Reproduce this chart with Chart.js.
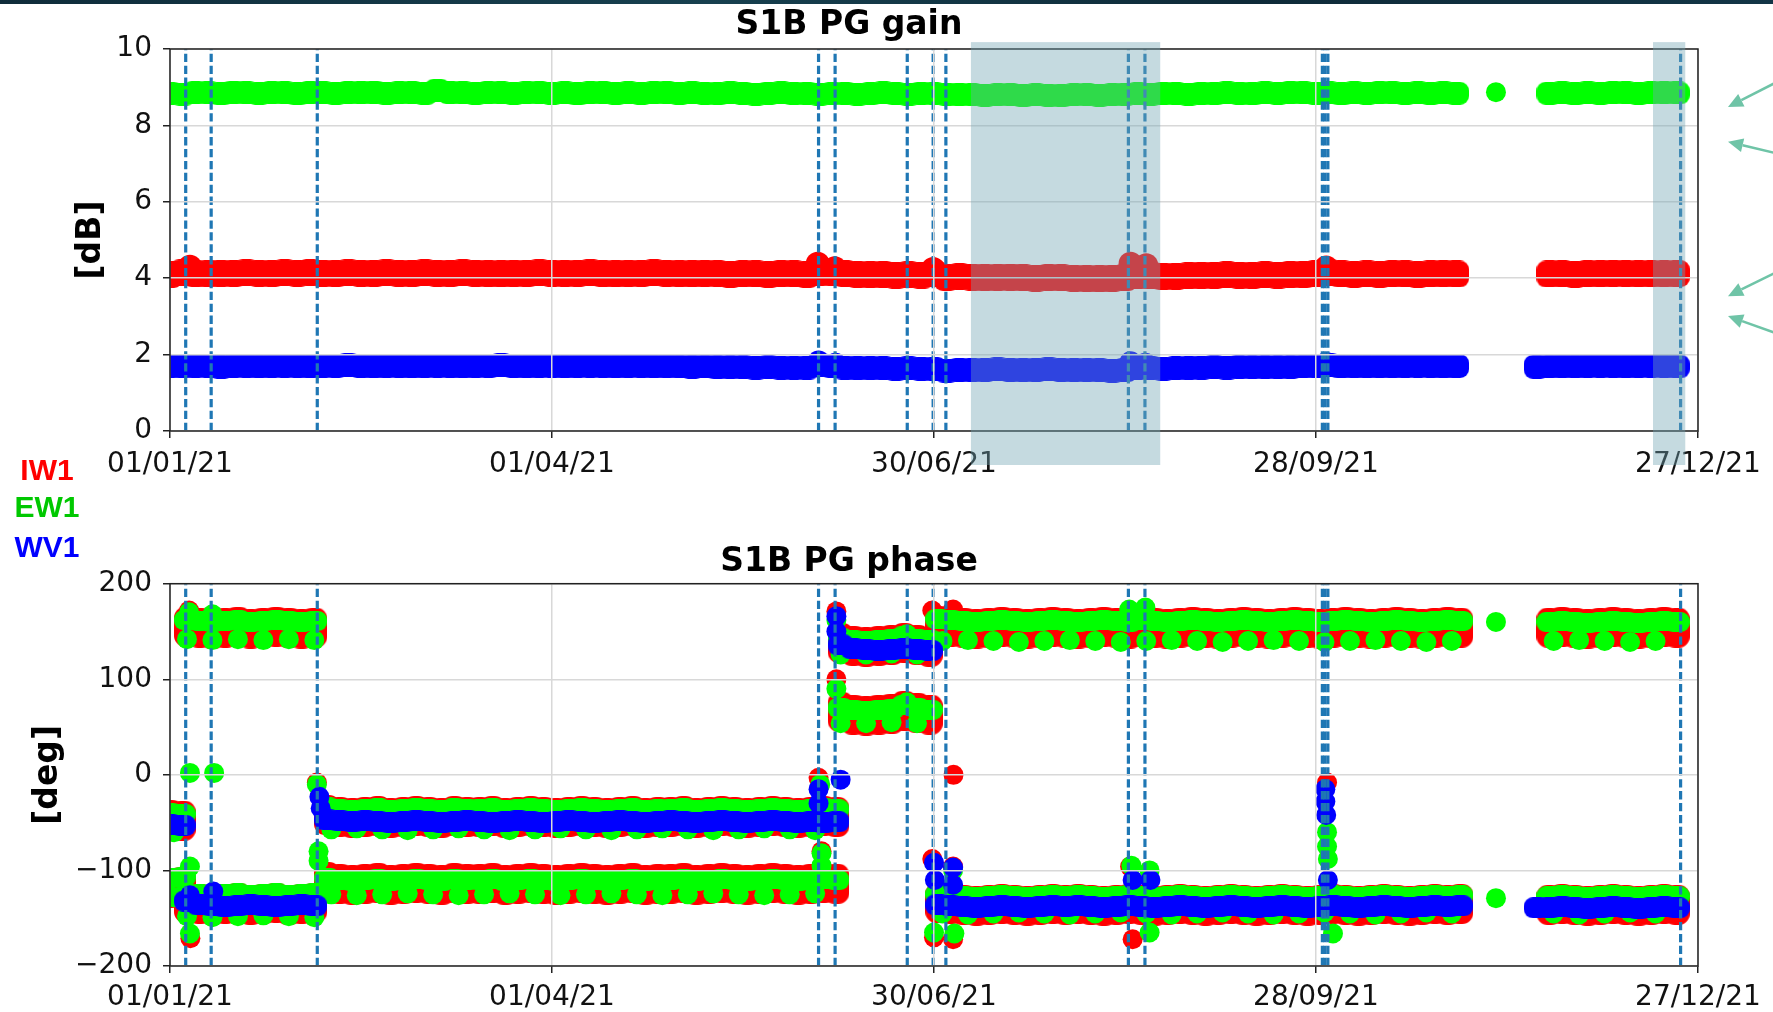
<!DOCTYPE html>
<html>
<head>
<meta charset="utf-8">
<script src="https://cdn.jsdelivr.net/npm/chart.js@4.4.1/dist/chart.umd.min.js"></script>
<style>
  html, body { margin: 0; padding: 0; background: #fff; }
  body { width: 1773px; height: 1012px; position: relative; overflow: hidden; }
  #banner { position: absolute; left: 0; top: 0; width: 1773px; height: 4px;
            background: linear-gradient(90deg, #0f2c3a, #17404f 40%, #0e2a38 70%, #123546); }
  canvas { position: absolute; left: 0; }
  #gainChart { top: 0; }
  #phaseChart { top: 490px; }
  .sw { position: absolute; left: 0; width: 94px; text-align: center;
        font: bold 30px "Liberation Sans", Arial, sans-serif; line-height: 30px; }
</style>
</head>
<body>
<canvas id="gainChart" width="1773" height="490"></canvas>
<canvas id="phaseChart" width="1773" height="522"></canvas>
<div id="banner"></div>
<div class="sw" style="top:455px;color:#ff0000">IW1</div>
<div class="sw" style="top:492px;color:#00c800">EW1</div>
<div class="sw" style="top:532px;color:#0000ff">WV1</div>
<script>
// x values are days since 01/01/21
const xTickDays = [0, 90, 180, 270, 360];
const xTickLabels = ['01/01/21', '01/04/21', '30/06/21', '28/09/21', '27/12/21'];
const gainTicks = [0, 2, 4, 6, 8, 10];
const phaseTicks = [-200, -100, 0, 100, 200];
const phaseTickLabels = ['\u2212200', '\u2212100', '0', '100', '200'];

// dashed event lines and the shaded periods (days)
const eventDays = [3.7, 9.7, 34.7, 152.8, 156.7, 173.7, 179.8, 182.8, 225.8, 229.7, 271.5, 272.1, 272.8, 355.9];
const shadedDays = [[188.7, 233.3], [349.4, 357.0]];

// runs: [first day, day step, values]
const ew1Gain = [
  [0, 3, [8.84, 8.82, 8.86, 8.85, 8.83, 8.87, 8.85, 8.84, 8.86, 8.85,
          8.83, 8.86, 8.85, 8.84, 8.86, 8.85, 8.87, 8.84, 8.85, 8.86,
          8.84, 8.92, 8.86, 8.85, 8.84, 8.86, 8.85, 8.84, 8.85, 8.86,
          8.84, 8.85, 8.83, 8.85, 8.86, 8.84, 8.85, 8.84, 8.85, 8.86,
          8.84, 8.85, 8.84, 8.83, 8.85, 8.84, 8.82, 8.84, 8.85, 8.83,
          8.84, 8.82, 8.83, 8.84, 8.82, 8.83, 8.85, 8.83, 8.82, 8.84,
          8.83, 8.82, 8.80, 8.81, 8.79, 8.80, 8.81, 8.78, 8.80, 8.79,
          8.78, 8.80, 8.81, 8.79, 8.80, 8.82, 8.83, 8.82, 8.84, 8.83,
          8.82, 8.84, 8.83, 8.85, 8.84, 8.83, 8.85, 8.84, 8.86, 8.85,
          8.84, 8.85, 8.83, 8.85, 8.84, 8.86, 8.85, 8.84, 8.85, 8.84,
          8.85, 8.84]],
  [325, 3, [8.84, 8.85, 8.83, 8.85, 8.84, 8.86, 8.85, 8.84, 8.85, 8.86, 8.85]]
];
const iw1Gain = [
  [0, 3, [4.10, 4.14, 4.12, 4.11, 4.13, 4.12, 4.14, 4.13, 4.12, 4.14,
          4.13, 4.15, 4.13, 4.12, 4.14, 4.13, 4.12, 4.14, 4.13, 4.12,
          4.14, 4.13, 4.12, 4.14, 4.13, 4.12, 4.11, 4.13, 4.12, 4.14,
          4.13, 4.12, 4.13, 4.14, 4.12, 4.11, 4.13, 4.12, 4.14, 4.13,
          4.12, 4.11, 4.13, 4.12, 4.10, 4.12, 4.11, 4.10, 4.12, 4.11,
          4.10, 4.14, 4.16, 4.12, 4.10, 4.09, 4.10, 4.08, 4.09, 4.08,
          4.12, 4.02, 4.04, 4.03, 4.01, 4.02, 4.03, 4.01, 4.00, 4.02,
          4.01, 4.00, 3.99, 3.98, 4.00, 4.02, 4.06, 4.08, 4.04, 4.05,
          4.06, 4.08, 4.07, 4.09, 4.08, 4.07, 4.09, 4.08, 4.10, 4.09,
          4.12, 4.14, 4.11, 4.10, 4.11, 4.10, 4.12, 4.11, 4.10, 4.11,
          4.12, 4.11]],
  [325, 3, [4.11, 4.12, 4.10, 4.12, 4.11, 4.13, 4.12, 4.11, 4.12, 4.11, 4.12]]
];
const wv1Gain = [
  [0, 3, [1.70, 1.69, 1.71, 1.70, 1.68, 1.70, 1.71, 1.69, 1.70, 1.71,
          1.70, 1.69, 1.71, 1.70, 1.72, 1.70, 1.69, 1.71, 1.70, 1.69,
          1.70, 1.71, 1.70, 1.69, 1.71, 1.70, 1.72, 1.70, 1.69, 1.71,
          1.70, 1.69, 1.70, 1.71, 1.70, 1.69, 1.70, 1.71, 1.69, 1.70,
          1.69, 1.68, 1.69, 1.67, 1.68, 1.67, 1.66, 1.67, 1.66, 1.65,
          1.66, 1.72, 1.70, 1.66, 1.64, 1.65, 1.64, 1.63, 1.64, 1.63,
          1.62, 1.58, 1.60, 1.59, 1.60, 1.61, 1.60, 1.59, 1.60, 1.61,
          1.60, 1.59, 1.60, 1.59, 1.58, 1.60, 1.66, 1.65, 1.63, 1.64,
          1.65, 1.66, 1.67, 1.66, 1.68, 1.67, 1.68, 1.67, 1.68, 1.69,
          1.70, 1.72, 1.69, 1.70, 1.69, 1.70, 1.69, 1.70, 1.71, 1.70,
          1.69, 1.70]],
  [322, 3, [1.68, 1.69, 1.70, 1.69, 1.70, 1.71, 1.70, 1.69, 1.70, 1.71, 1.70, 1.69]]
];
// single points away from the runs: [day, value]
const ew1GainOut = [[312.4, 8.87]];
const iw1GainOut = [[4.7, 4.30], [152.6, 4.38], [156.6, 4.26], [179.8, 4.24], [226.3, 4.38], [230.0, 4.34], [272.4, 4.28]];
const wv1GainOut = [[152.8, 1.82], [156.8, 1.76], [226.3, 1.80], [229.8, 1.76], [272.4, 1.78]];

const iw1Phase = [
  [0, 3, [-47, -48]],
  [0, 3, [-118, -117]],
  [4, 3, [155, 154, 153, 154, 155, 153, 154, 155, 154, 153, 154]],
  [4, 3, [-134, -135, -136, -135, -134, -136, -135, -134, -136, -135, -134]],
  [37, 3, [-42, -44, -45, -44, -43, -45, -44, -43, -44, -45,
           -43, -44, -44, -43, -45, -44, -43, -44, -45, -44,
           -43, -44, -45, -44, -43, -45, -44, -44, -43, -45,
           -44, -43, -44, -45, -44, -43, -44, -45, -44, -43, -44]],
  [37, 3, [-112, -114, -115, -114, -113, -115, -114, -113, -114, -115,
           -113, -114, -114, -113, -115, -114, -113, -114, -115, -114,
           -113, -114, -115, -114, -113, -115, -114, -114, -113, -115,
           -114, -113, -114, -115, -114, -113, -114, -115, -114, -113, -114]],
  [158, 3, [138, 135, 134, 135, 136, 138, 136, 134]],
  [158, 3, [66, 63, 62, 63, 64, 67, 65, 63]],
  [181, 3, [156, 155, 154, 153, 154, 155, 154, 153, 154, 155,
            154, 153, 154, 155, 154, 153, 155, 154, 153, 154,
            155, 154, 153, 154, 155, 154, 153, 154, 155, 154,
            153, 154, 155, 154, 153, 154, 155, 154, 153, 154, 155, 154]],
  [181, 3, [-134, -135, -136, -137, -136, -135, -136, -137, -136, -135,
            -136, -135, -136, -137, -136, -135, -136, -137, -136, -135,
            -136, -137, -136, -135, -136, -137, -136, -135, -136, -137,
            -136, -135, -136, -137, -136, -135, -136, -137, -136, -135, -136, -135]],
  [325, 3, [154, 155, 154, 153, 154, 155, 154, 153, 154, 155, 154]],
  [325, 3, [-136, -135, -136, -137, -136, -135, -136, -137, -136, -135, -136]]
];
const ew1Phase = [
  [0, 3, [-40, -41]],
  [0, 3, [-108, -107]],
  [4, 3, [162, 161, 160, 161, 162, 160, 161, 162, 161, 160, 161]],
  [4, 3, [-125, -125, -126, -125, -124, -126, -125, -124, -126, -125, -124]],
  [37, 3, [-34, -36, -37, -36, -35, -37, -36, -35, -36, -37,
           -35, -36, -36, -35, -37, -36, -35, -36, -37, -36,
           -35, -36, -37, -36, -35, -37, -36, -36, -35, -37,
           -36, -35, -36, -37, -36, -35, -36, -37, -36, -35, -36]],
  [37, 3, [-108, -110, -111, -110, -109, -111, -110, -109, -110, -111,
           -109, -110, -110, -109, -111, -110, -109, -110, -111, -110,
           -109, -110, -111, -110, -109, -111, -110, -110, -109, -111,
           -110, -109, -110, -111, -110, -109, -110, -111, -110, -109, -110]],
  [158, 3, [143, 141, 140, 141, 142, 145, 142, 141]],
  [158, 3, [70, 68, 67, 68, 69, 73, 70, 68]],
  [181, 3, [163, 162, 161, 160, 161, 162, 161, 160, 161, 162,
            161, 160, 161, 162, 161, 160, 162, 161, 160, 161,
            162, 161, 160, 161, 162, 161, 160, 161, 162, 161,
            160, 161, 162, 161, 160, 161, 162, 161, 160, 161, 162, 161]],
  [181, 3, [-125, -126, -127, -128, -127, -126, -127, -128, -127, -126,
            -127, -126, -127, -128, -127, -126, -127, -128, -127, -126,
            -127, -128, -127, -126, -127, -128, -127, -126, -127, -128,
            -127, -126, -127, -128, -127, -126, -127, -128, -127, -126, -127, -126]],
  [325, 3, [160, 161, 160, 159, 160, 161, 160, 159, 160, 161, 160]],
  [325, 3, [-127, -126, -127, -128, -127, -126, -127, -128, -127, -126, -127]]
];
// the sparser lower row of EW1 dots
const ew1PhaseLow = [
  [1, 6, [-60]],
  [1, 6, [-128]],
  [4, 6, [142, 141, 142, 141, 142, 141]],
  [4, 6, [-148, -149, -148, -147, -148, -149]],
  [38, 6, [-57, -56, -57, -58, -57, -56, -57, -58, -57, -56,
           -57, -58, -57, -56, -57, -58, -57, -56, -57, -58]],
  [38, 6, [-125, -126, -125, -124, -125, -126, -125, -124, -125, -126,
           -125, -124, -125, -126, -125, -124, -125, -126, -125, -124]],
  [158, 6, [126, 126, 127, 126]],
  [158, 6, [54, 54, 55, 54]],
  [182, 6, [140, 141, 140, 139, 140, 141, 140, 139, 140, 141,
            140, 139, 140, 141, 140, 139, 140, 141, 140, 139, 140]],
  [182, 6, [-145, -146, -145, -144, -145, -146, -145, -144, -145, -146,
            -145, -144, -145, -146, -145, -144, -145, -146, -145, -144, -145]],
  [326, 6, [140, 141, 140, 139, 140]],
  [326, 6, [-145, -146, -145, -144, -145]]
];
const wv1Phase = [
  [0, 3, [-52, -53]],
  [4, 3, [-132, -136, -137, -138, -137, -136, -137, -138, -137, -136, -137]],
  [37, 3, [-47, -48, -49, -48, -49, -50, -49, -48, -49, -50,
           -49, -48, -49, -50, -49, -48, -49, -50, -49, -48,
           -49, -50, -49, -48, -49, -50, -49, -48, -49, -50,
           -49, -48, -49, -50, -49, -48, -49, -50, -49, -50, -49]],
  [158, 3, [136, 132, 131, 130, 131, 132, 131, 130]],
  [181, 3, [-136, -137, -138, -139, -138, -137, -138, -139, -138, -137,
            -138, -137, -138, -139, -138, -137, -138, -139, -138, -137,
            -138, -139, -138, -137, -138, -139, -138, -137, -138, -139,
            -138, -137, -138, -139, -138, -137, -138, -139, -138, -137, -138, -137]],
  [322, 3, [-139, -139, -138, -139, -140, -139, -138, -139, -140, -139, -138, -139]]
];
const iw1PhaseOut = [[4.5, 172], [4.8, -171], [34.6, -8], [152.8, -3], [153.5, -80],
  [157, 171], [157, 100], [179.6, 172], [184.5, 173], [179.6, -88], [180, -170],
  [184.5, -96], [184.5, -172], [184.6, 0], [226.2, -96], [226.8, -172], [272.6, -8]];
const ew1PhaseOut = [[4.7, 2], [10.4, 2], [4.5, 170], [10, 168], [4.7, -96], [4.7, -166],
  [34.6, -10], [35, -80], [35, -90], [153.2, -10], [153.5, -82], [153.5, -95],
  [157, 162], [157, 90], [173.6, 147], [173.6, 76], [180, -165], [184.5, -100], [184.8, -166],
  [226, 173], [229.8, 175], [226.5, -95], [230.8, -100], [230.8, -165],
  [272.6, -60], [272.6, -75], [272.8, -88], [274, -166], [312.4, 160], [312.4, -129]];
const wv1PhaseOut = [[4.7, -126], [10.2, -122], [35.2, -23], [35.5, -35],
  [152.8, -15], [152.8, -30], [158, -5], [157, 166], [157, 150],
  [180, -92], [180.2, -110], [184.5, -97], [184.5, -115], [226.8, -110], [231, -110],
  [272.2, -15], [272.2, -28], [272.4, -42], [272.8, -110]];

Chart.defaults.font.family = "'DejaVu Sans', sans-serif";

function fromRuns(runs) {
  const pts = [];
  runs.forEach(([start, step, vals]) => {
    vals.forEach((v, i) => pts.push({ x: start + i * step, y: v }));
  });
  return pts;
}
function fromPairs(list) {
  return list.map(([x, y]) => ({ x, y }));
}

// rounded block used as marker for the dense runs, so a run reads as a ribbon
function block(w, h, r, color) {
  const c = document.createElement('canvas');
  c.width = w; c.height = h;
  const g = c.getContext('2d');
  g.fillStyle = color;
  g.beginPath();
  g.moveTo(r, 0);
  g.arcTo(w, 0, w, h, r);
  g.arcTo(w, h, 0, h, r);
  g.arcTo(0, h, 0, 0, r);
  g.arcTo(0, 0, w, 0, r);
  g.closePath();
  g.fill();
  return c;
}

function dots(data, color, r, order) {
  return { type: 'scatter', data, backgroundColor: color, borderWidth: 0,
           pointRadius: r, pointHoverRadius: r, order, clip: 0 };
}
function ribbon(data, img, order) {
  return { type: 'scatter', data, pointStyle: img, backgroundColor: 'rgba(0,0,0,0)',
           borderWidth: 0, pointRadius: 10, pointHoverRadius: 10, order, clip: 0 };
}
function eventLines(yMin, yMax) {
  return eventDays.map(d => ({
    type: 'line', data: [{ x: d, y: yMin }, { x: d, y: yMax }],
    borderColor: '#1f77b4', borderWidth: 3.2, borderDash: [8.3, 3.6],
    pointRadius: 0, fill: false, order: 0, clip: 0
  }));
}

const framePlugin = {
  id: 'frame',
  afterDraw(chart) {
    const { ctx, chartArea: a } = chart;
    ctx.save();
    ctx.strokeStyle = '#222';
    ctx.lineWidth = 1.5;
    ctx.strokeRect(a.left, a.top, a.right - a.left, a.bottom - a.top);
    ctx.restore();
  }
};

const shadePlugin = {
  id: 'shade',
  afterDraw(chart) {
    const { ctx, scales: { x, y } } = chart;
    const top = y.getPixelForValue(10.18), bot = y.getPixelForValue(-0.89);
    ctx.save();
    ctx.fillStyle = 'rgba(115, 166, 180, 0.41)';
    shadedDays.forEach(([a, b]) => {
      const x1 = x.getPixelForValue(a), x2 = x.getPixelForValue(b);
      ctx.fillRect(x1, top, x2 - x1, bot - top);
    });
    ctx.restore();
  }
};

// arrows on the right side, [tail dB, tip dB]
const arrowPlugin = {
  id: 'arrows',
  afterDraw(chart) {
    const { ctx, chartArea: a, scales: { y } } = chart;
    const levels = [[9.11, 8.48], [7.28, 7.57], [4.14, 3.53], [2.57, 3.01]];
    ctx.save();
    ctx.strokeStyle = '#6fc4a7';
    ctx.fillStyle = '#6fc4a7';
    ctx.lineWidth = 2.5;
    levels.forEach(([from, to]) => {
      const x0 = chart.width + 2, y0 = y.getPixelForValue(from);
      const x1 = a.right + 30, y1 = y.getPixelForValue(to);
      const ang = Math.atan2(y1 - y0, x1 - x0);
      const hl = 15, hw = 7;
      const bx = x1 - hl * Math.cos(ang), by = y1 - hl * Math.sin(ang);
      ctx.beginPath(); ctx.moveTo(x0, y0); ctx.lineTo(bx, by); ctx.stroke();
      ctx.beginPath();
      ctx.moveTo(x1, y1);
      ctx.lineTo(bx + hw * Math.sin(ang), by - hw * Math.cos(ang));
      ctx.lineTo(bx - hw * Math.sin(ang), by + hw * Math.cos(ang));
      ctx.closePath();
      ctx.fill();
    });
    ctx.restore();
  }
};

function baseOptions(cfg) {
  return {
    responsive: false,
    animation: false,
    events: [],
    layout: { padding: { left: 0, right: 75, top: 0, bottom: 0 } },
    plugins: {
      legend: { display: false },
      tooltip: { enabled: false },
      title: {
        display: true, text: cfg.title, color: '#000',
        font: { size: 33, weight: 'bold' },
        padding: cfg.titlePad
      }
    },
    scales: {
      x: {
        type: 'linear', min: 0, max: 360,
        afterBuildTicks: s => { s.ticks = xTickDays.map(v => ({ value: v })); },
        afterFit: s => { s.height = cfg.xHeight; },
        ticks: {
          autoSkip: false, maxRotation: 0, padding: cfg.xPad, color: '#111',
          font: { size: 28 },
          callback: v => xTickLabels[xTickDays.indexOf(v)]
        },
        grid: { color: '#d8d8d8', lineWidth: 1.5, tickColor: '#222', tickLength: 7, z: 1 },
        border: { display: false }
      },
      y: {
        type: 'linear', min: cfg.yTicks[0], max: cfg.yTicks[cfg.yTicks.length - 1],
        afterBuildTicks: s => { s.ticks = cfg.yTicks.map(v => ({ value: v })); },
        afterFit: s => { s.width = 170; },
        ticks: {
          padding: 11, color: '#111', font: { size: 28 },
          callback: v => cfg.yLabels[cfg.yTicks.indexOf(v)]
        },
        grid: { color: '#d8d8d8', lineWidth: 1.5, tickColor: '#222', tickLength: 7, z: 1 },
        border: { display: false },
        title: {
          display: true, text: cfg.yTitle, color: '#000',
          font: { size: 33, weight: 'bold' },
          padding: { top: cfg.yTitlePad, bottom: 0 }
        }
      }
    }
  };
}

new Chart(document.getElementById('gainChart'), {
  type: 'scatter',
  data: {
    datasets: [
      ...eventLines(0, 10),
      ribbon(fromRuns(wv1Gain), block(26, 24, 9, '#0000ff'), 1),
      dots(fromPairs(wv1GainOut), '#0000ff', 11, 1),
      ribbon(fromRuns(ew1Gain), block(26, 23, 9, '#00ff00'), 2),
      dots(fromPairs(ew1GainOut), '#00ff00', 10, 2),
      ribbon(fromRuns(iw1Gain), block(26, 27, 9, '#ff0000'), 3),
      dots(fromPairs(iw1GainOut), '#ff0000', 12, 3)
    ]
  },
  options: baseOptions({
    title: 'S1B PG gain', titlePad: { top: 5.7, bottom: 3.7 }, xHeight: 59, xPad: 10,
    yTicks: gainTicks, yLabels: gainTicks.map(String), yTitle: '[dB]', yTitlePad: 72
  }),
  plugins: [framePlugin, shadePlugin, arrowPlugin]
});

new Chart(document.getElementById('phaseChart'), {
  type: 'scatter',
  data: {
    datasets: [
      ...eventLines(-200, 200),
      ribbon(fromRuns(wv1Phase), block(26, 21, 9, '#0000ff'), 1),
      dots(fromPairs(wv1PhaseOut), '#0000ff', 10, 1),
      ribbon(fromRuns(ew1Phase), block(26, 20, 9, '#00ff00'), 2),
      dots(fromRuns(ew1PhaseLow).concat(fromPairs(ew1PhaseOut)), '#00ff00', 10, 2),
      dots(fromPairs(iw1PhaseOut), '#ff0000', 10, 3),
      ribbon(fromRuns(iw1Phase), block(26, 40, 11, '#ff0000'), 3)
    ]
  },
  options: baseOptions({
    title: 'S1B PG phase', titlePad: { top: 52.7, bottom: 1.4 }, xHeight: 46, xPad: 8,
    yTicks: phaseTicks, yLabels: phaseTickLabels, yTitle: '[deg]', yTitlePad: 29
  }),
  plugins: [framePlugin]
});
</script>
</body>
</html>
